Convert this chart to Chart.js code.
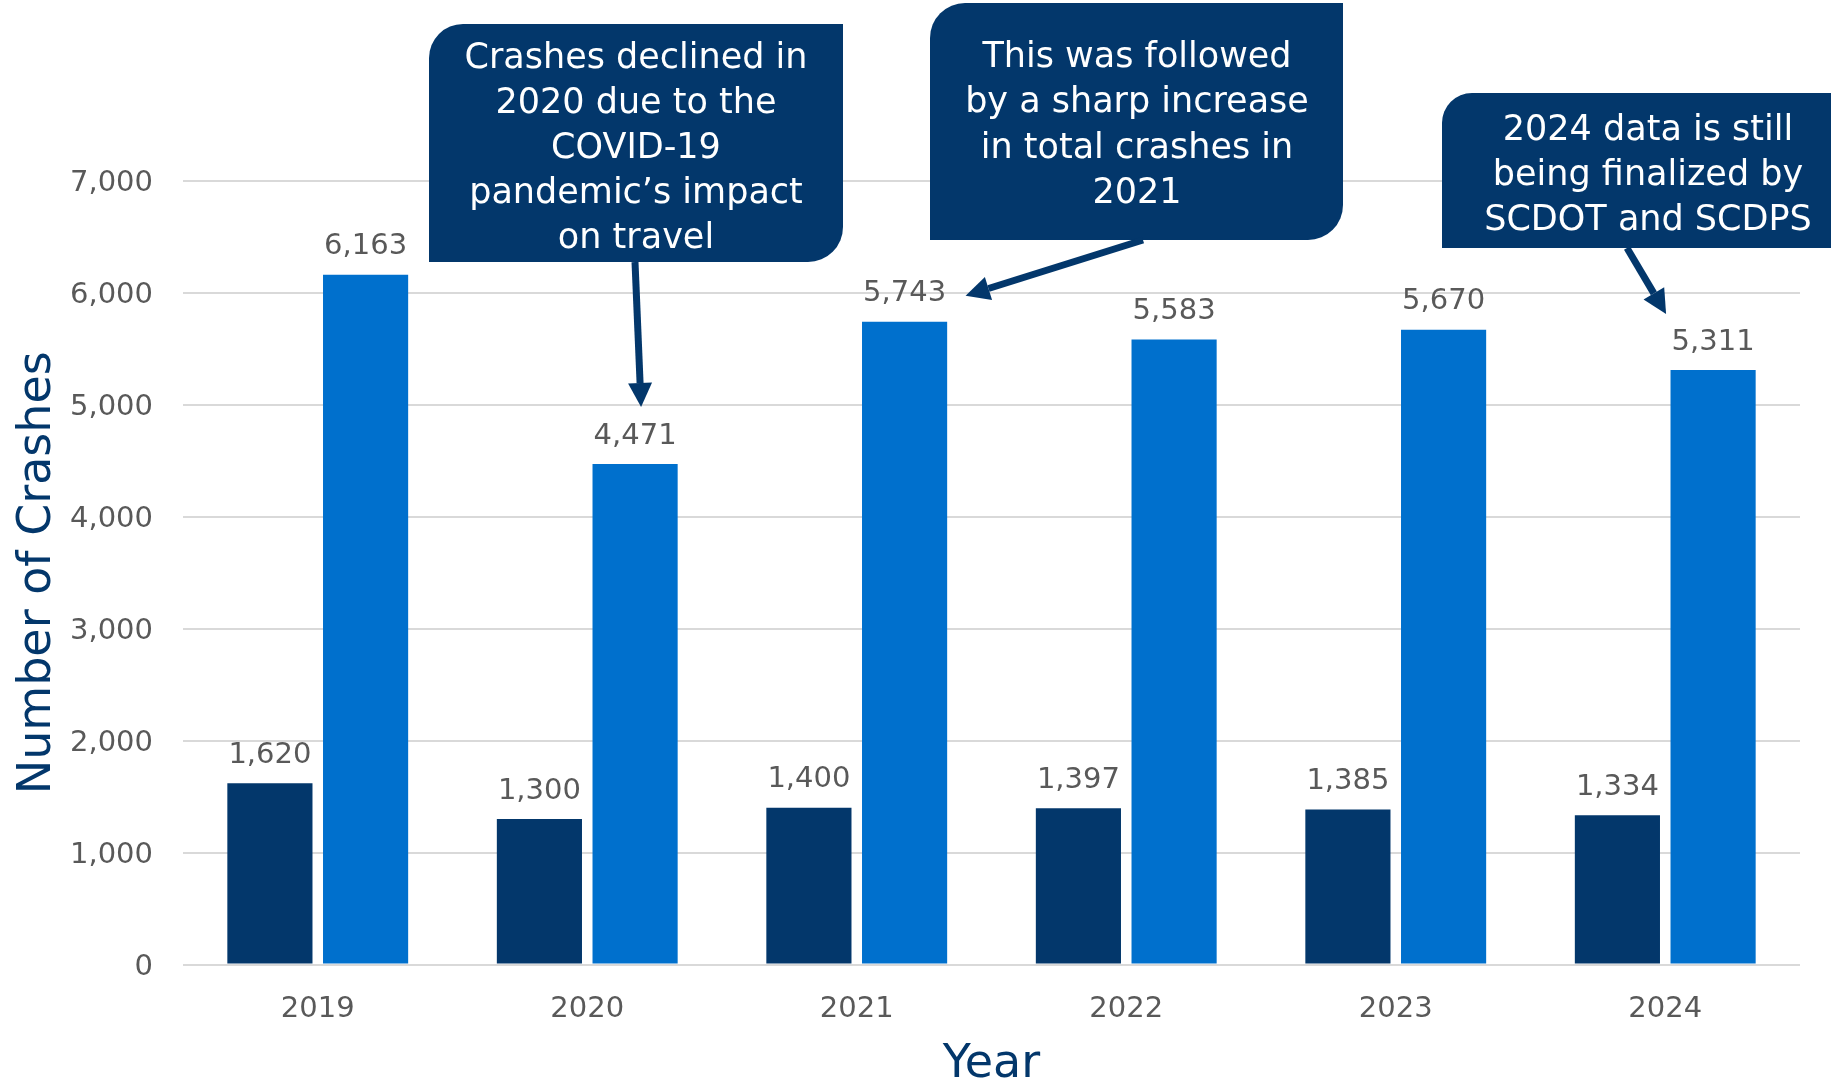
<!DOCTYPE html>
<html>
<head>
    <title>Crashes by Year</title>
    <script src="https://cdn.jsdelivr.net/npm/chart.js"></script>
    <style>
        body { margin: 0; background: white; }
        .wrap { width: 1831px; height: 1085px; }
    </style>
</head>
<body>
    <div class="wrap"><canvas id="crashChart" width="1831" height="1085"></canvas></div>

    <script>
        // chart data
        const years = ['2019', '2020', '2021', '2022', '2023', '2024'];
        const darkSeries = [1620, 1300, 1400, 1397, 1385, 1334];
        const lightSeries = [6163, 4471, 5743, 5583, 5670, 5311];
        const yTicks = [0, 1000, 2000, 3000, 4000, 5000, 6000, 7000];

        const navy = '#03376b';
        const blue = '#0070cd';
        const grey = '#595959';
        const fontFamily = '"DejaVu Sans", Verdana, sans-serif';

        const fmt = v => v.toLocaleString('en-US');

        // value labels above each bar
        const valueLabels = {
            id: 'valueLabels',
            afterDatasetsDraw(chart) {
                const ctx = chart.ctx;
                ctx.save();
                ctx.font = '29px ' + fontFamily;
                ctx.fillStyle = grey;
                ctx.textAlign = 'center';
                ctx.textBaseline = 'middle';
                chart.data.datasets.forEach((ds, i) => {
                    chart.getDatasetMeta(i).data.forEach((bar, j) => {
                        ctx.fillText(fmt(ds.data[j]), bar.x, bar.y - 28);
                    });
                });
                ctx.restore();
            }
        };

        // callout boxes with arrows
        const notes = [
            { x: 429, y: 24, w: 414, h: 238, tl: 34, br: 35, textX: 636, lineY: 58.5, lineH: 45,
              lines: ['Crashes declined in', '2020 due to the', 'COVID-19', 'pandemic\u2019s impact', 'on travel'],
              from: [635, 262], bar: [1, 1], dx: 6, dy: -57 },
            { x: 930, y: 3, w: 413, h: 237, tl: 35, br: 35, textX: 1137, lineY: 57.5, lineH: 45.5,
              lines: ['This was followed', 'by a sharp increase', 'in total crashes in', '2021'],
              from: [1143, 240], bar: [1, 2], dx: 61, dy: -26 },
            { x: 1442, y: 93, w: 400, h: 155, tl: 30, br: 0, textX: 1648, lineY: 130.5, lineH: 45,
              lines: ['2024 data is still', 'being finalized by', 'SCDOT and SCDPS'],
              from: [1627, 248], bar: [1, 5], dx: -47, dy: -56 }
        ];

        function boxPath(ctx, n) {
            ctx.beginPath();
            ctx.moveTo(n.x + n.tl, n.y);
            ctx.lineTo(n.x + n.w, n.y);
            ctx.lineTo(n.x + n.w, n.y + n.h - n.br);
            ctx.arcTo(n.x + n.w, n.y + n.h, n.x + n.w - n.br, n.y + n.h, n.br);
            ctx.lineTo(n.x, n.y + n.h);
            ctx.lineTo(n.x, n.y + n.tl);
            ctx.arcTo(n.x, n.y, n.x + n.tl, n.y, n.tl);
            ctx.closePath();
        }

        function arrow(ctx, x1, y1, x2, y2) {
            const ang = Math.atan2(y2 - y1, x2 - x1);
            const head = 24;
            const bx = x2 - head * Math.cos(ang), by = y2 - head * Math.sin(ang);
            ctx.lineWidth = 7;
            ctx.beginPath();
            ctx.moveTo(x1, y1);
            ctx.lineTo(bx, by);
            ctx.stroke();
            ctx.beginPath();
            ctx.moveTo(x2, y2);
            ctx.lineTo(bx + 12 * Math.cos(ang + Math.PI / 2), by + 12 * Math.sin(ang + Math.PI / 2));
            ctx.lineTo(bx + 12 * Math.cos(ang - Math.PI / 2), by + 12 * Math.sin(ang - Math.PI / 2));
            ctx.closePath();
            ctx.fill();
        }

        const callouts = {
            id: 'callouts',
            afterDraw(chart) {
                const ctx = chart.ctx;
                ctx.save();
                notes.forEach(n => {
                    ctx.fillStyle = navy;
                    ctx.strokeStyle = navy;
                    boxPath(ctx, n);
                    ctx.fill();
                    const bar = chart.getDatasetMeta(n.bar[0]).data[n.bar[1]];
                    arrow(ctx, n.from[0], n.from[1], bar.x + n.dx, bar.y + n.dy);
                    ctx.fillStyle = 'white';
                    ctx.font = '35px ' + fontFamily;
                    ctx.textAlign = 'center';
                    ctx.textBaseline = 'middle';
                    n.lines.forEach((t, i) => ctx.fillText(t, n.textX, n.lineY + i * n.lineH));
                });
                ctx.restore();
            }
        };

        new Chart(document.getElementById('crashChart'), {
            type: 'bar',
            data: {
                labels: years,
                datasets: [
                    { label: 'Serious crashes', data: darkSeries, backgroundColor: navy },
                    { label: 'Total crashes', data: lightSeries, backgroundColor: blue }
                ]
            },
            options: {
                responsive: false,
                animation: false,
                categoryPercentage: 0.71,
                barPercentage: 0.89,
                layout: { padding: { top: 181, right: 31, left: 0, bottom: 0 } },
                plugins: {
                    legend: { display: false },
                    tooltip: { enabled: false }
                },
                scales: {
                    x: {
                        grid: { display: false },
                        border: { display: false },
                        ticks: { color: grey, font: { family: fontFamily, size: 29 }, padding: 20 },
                        title: { display: true, text: 'Year', color: navy,
                                 font: { family: fontFamily, size: 46, lineHeight: 0.85 }, padding: 0 },
                        afterFit(scale) { scale.height = 120.5; }
                    },
                    y: {
                        min: 0,
                        max: 7000,
                        grid: { color: '#d9d9d9', lineWidth: 2, drawTicks: false },
                        border: { display: false },
                        afterBuildTicks(scale) { scale.ticks = yTicks.map(v => ({ value: v })); },
                        ticks: { color: grey, font: { family: fontFamily, size: 29 }, padding: 30,
                                 labelOffset: 2.5, callback: v => fmt(v) },
                        title: { display: true, text: 'Number of Crashes', color: navy,
                                 font: { family: fontFamily, size: 46 }, padding: { top: 10, bottom: 0 } },
                        afterFit(scale) { scale.width = 183; }
                    }
                }
            },
            plugins: [valueLabels, callouts]
        });
    </script>
</body>
</html>
